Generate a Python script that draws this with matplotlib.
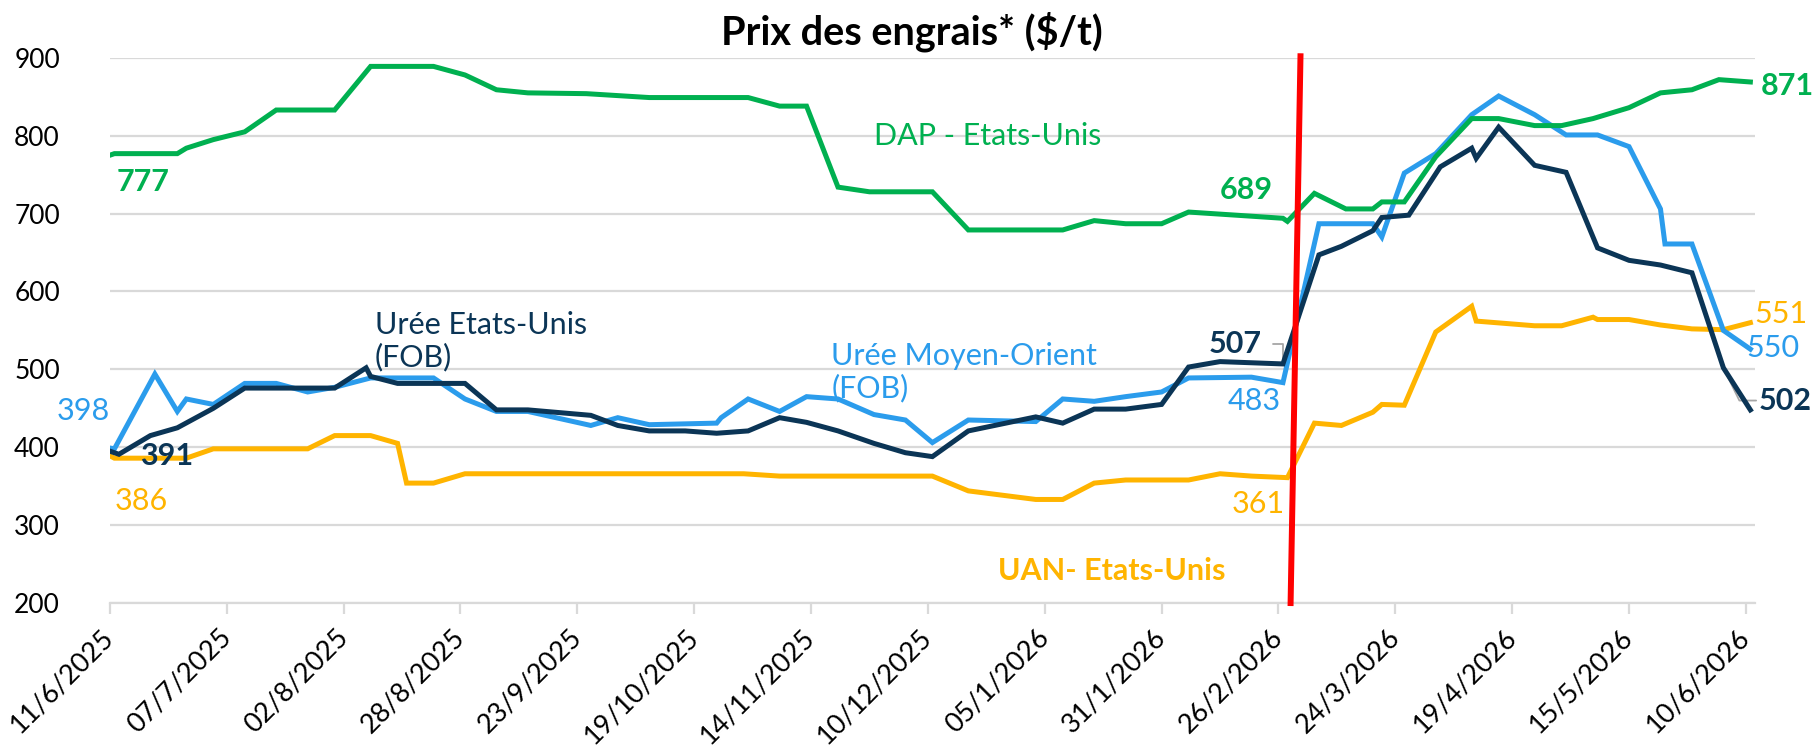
import pandas as pd
import matplotlib
matplotlib.use("Agg")
import matplotlib.pyplot as plt

plt.rcParams['font.family'] = ['Lato', 'DejaVu Sans']

start = pd.Timestamp("2025-06-11")

# series: day offset from 11/6/2025 and price in $/t
dap_days = [0, 1, 15, 17, 23, 30, 37, 50, 58, 72, 79, 86, 93, 106, 120, 142, 149, 155, 162, 169,
            183, 191, 212, 219, 226, 234, 240, 261, 262, 268, 275, 281, 283, 288, 295, 303, 309,
            317, 323, 330, 338, 345, 352, 358, 365]
dap_vals = [775, 777, 777, 784, 795, 805, 833, 833, 889, 889, 878, 859, 855, 854, 849, 849, 838, 838, 734, 728,
            728, 679, 679, 691, 687, 687, 702, 694, 690, 726, 706, 706, 715, 715, 773, 822, 822,
            813, 813, 822, 836, 855, 859, 872, 869]

mo_days = [0, 1, 10, 15, 17, 23, 30, 37, 44, 50, 58, 72, 79, 86, 93, 107, 113, 120, 135, 136, 142,
           149, 155, 162, 170, 177, 183, 191, 206, 212, 219, 226, 234, 240, 254, 261, 269, 281, 283,
           288, 295, 303, 309, 317, 324, 331, 338, 345, 346, 352, 359, 365]
mo_vals = [399, 398, 494, 446, 462, 455, 482, 482, 471, 477, 489, 489, 462, 446, 446, 428, 438, 429, 431, 438, 462,
           446, 465, 462, 442, 435, 406, 435, 433, 462, 459, 465, 471, 489, 490, 483, 687, 687, 670,
           752, 777, 827, 851, 827, 801, 801, 786, 706, 661, 661, 550, 526]

us_days = [0, 2, 9, 15, 23, 30, 50, 57, 58, 64, 79, 86, 93, 107, 113, 120, 128, 135, 142, 149, 155,
           162, 170, 177, 183, 191, 206, 212, 219, 226, 234, 240, 247, 261, 269, 274, 281, 283, 289,
           296, 303, 304, 309, 317, 324, 331, 338, 345, 352, 359, 365]
us_vals = [395, 391, 415, 425, 450, 476, 476, 502, 491, 482, 482, 448, 448, 441, 428, 421, 421, 418, 421, 438, 432,
           421, 405, 393, 388, 421, 439, 431, 449, 449, 455, 503, 510, 507, 647, 658, 678, 695, 698,
           760, 784, 771, 811, 762, 753, 656, 640, 634, 624, 502, 448]

uan_days = [0, 1, 17, 23, 44, 50, 58, 64, 66, 72, 79, 141, 149, 183, 191, 206, 212, 219, 226, 240,
            247, 254, 262, 268, 274, 281, 283, 288, 295, 303, 304, 317, 323, 330, 331, 338, 345, 352,
            359, 365]
uan_vals = [389, 386, 386, 398, 398, 415, 415, 405, 354, 354, 366, 366, 363, 363, 344, 333, 333, 354, 358, 358,
            366, 363, 361, 431, 428, 445, 455, 454, 548, 581, 562, 556, 556, 567, 564, 564, 557, 552,
            551, 560]

event_days = [262.7, 264.9]
event_vals = [200, 902]

tick_labels = ["11/6/2025", "07/7/2025", "02/8/2025", "28/8/2025", "23/9/2025", "19/10/2025",
               "14/11/2025", "10/12/2025", "05/1/2026", "31/1/2026", "26/2/2026", "24/3/2026",
               "19/4/2026", "15/5/2026", "10/6/2026"]

green = "#00B050"
navy = "#0B3556"
sky = "#2B9CEC"
gold = "#FFB400"
grid = "#D9D9D9"
leader = "#A6A6A6"


def to_dates(days):
    return start + pd.to_timedelta(days, unit="D")


fig = plt.figure(figsize=(18.17, 7.51), dpi=100)
ax = fig.add_axes([0.0605, 0.197, 0.9053, 0.726])

ax.plot(to_dates(uan_days), uan_vals, color=gold, lw=3.6, solid_joinstyle='miter', zorder=3)
ax.plot(to_dates(mo_days), mo_vals, color=sky, lw=3.6, solid_joinstyle='miter', zorder=4)
ax.plot(to_dates(us_days), us_vals, color=navy, lw=3.6, solid_joinstyle='miter', zorder=5)
ax.plot(to_dates(dap_days), dap_vals, color=green, lw=3.6, solid_joinstyle='miter', zorder=6)
ax.plot(to_dates(event_days), event_vals, color="#FF0000", lw=4.3, zorder=7, clip_on=False)

ax.set_ylim(200, 900)
ax.set_yticks(range(200, 901, 100))
ax.set_xlim(start, start + pd.Timedelta(days=366))
ax.set_xticks(pd.date_range(start, periods=len(tick_labels), freq="26D"))
ax.set_xticklabels(tick_labels, rotation=45, ha='right', va='center', rotation_mode='anchor')
ax.grid(axis='y', color=grid, lw=1.6)
ax.set_axisbelow(True)
for s in ['top', 'right', 'left']:
    ax.spines[s].set_visible(False)
ax.spines['bottom'].set_color(grid)
ax.spines['bottom'].set_linewidth(1.6)
ax.tick_params(axis='y', length=0, pad=36, labelsize=19)
ax.tick_params(axis='x', length=8, width=1.6, color=grid, pad=14, labelsize=19.5)

fig.text(0.5017, 0.958, "Prix des engrais* ($/t)", ha='center', va='center',
         fontsize=28.5, fontweight='bold')


def lab(day, val, txt, color, bold=False, size=22):
    ax.text(start + pd.Timedelta(days=day), val, txt, color=color, fontsize=size,
            fontweight='bold' if bold else 'normal', ha='left', va='center',
            linespacing=1.15, clip_on=False)


lab(1.5, 740, "777", green, True)
lab(169.9, 800, "DAP - Etats-Unis", green)
lab(246.9, 730, "689", green, True)
lab(367.3, 864, "871", green, True)
lab(59, 536, "Urée Etats-Unis\n(FOB)", navy)
lab(-11.9, 446, "398", sky)
lab(6.6, 389, "391", navy, True)
lab(1.1, 331, "386", gold)
lab(160.5, 496, "Urée Moyen-Orient\n(FOB)", sky)
lab(197.6, 241, "UAN- Etats-Unis", gold, True)
lab(248.8, 459, "483", sky)
lab(249.7, 327, "361", gold)
lab(365.8, 571, "551", gold)
lab(364, 527, "550", sky)

# labels with leader lines to the points they refer to
ax.annotate("507", xy=(to_dates([us_days[33]])[0], us_vals[33]),
            xytext=(start + pd.Timedelta(days=244.5), 533), color=navy, fontsize=22,
            fontweight='bold', va='center', ha='left',
            arrowprops=dict(arrowstyle='-', color=leader, lw=1.3, shrinkA=6, shrinkB=3,
                            relpos=(1, 0.5),
                            connectionstyle='angle,angleA=0,angleB=90,rad=0'))
ax.annotate("502", xy=(to_dates([us_days[49]])[0], us_vals[49]),
            xytext=(start + pd.Timedelta(days=366.9), 460), color=navy, fontsize=22,
            fontweight='bold', va='center', ha='left', annotation_clip=False,
            arrowprops=dict(arrowstyle='-', color=leader, lw=1.3, shrinkA=0, shrinkB=3,
                            relpos=(0, 0.5),
                            connectionstyle='angle,angleA=0,angleB=-64,rad=0'))

fig.savefig("out.png", dpi=100)
